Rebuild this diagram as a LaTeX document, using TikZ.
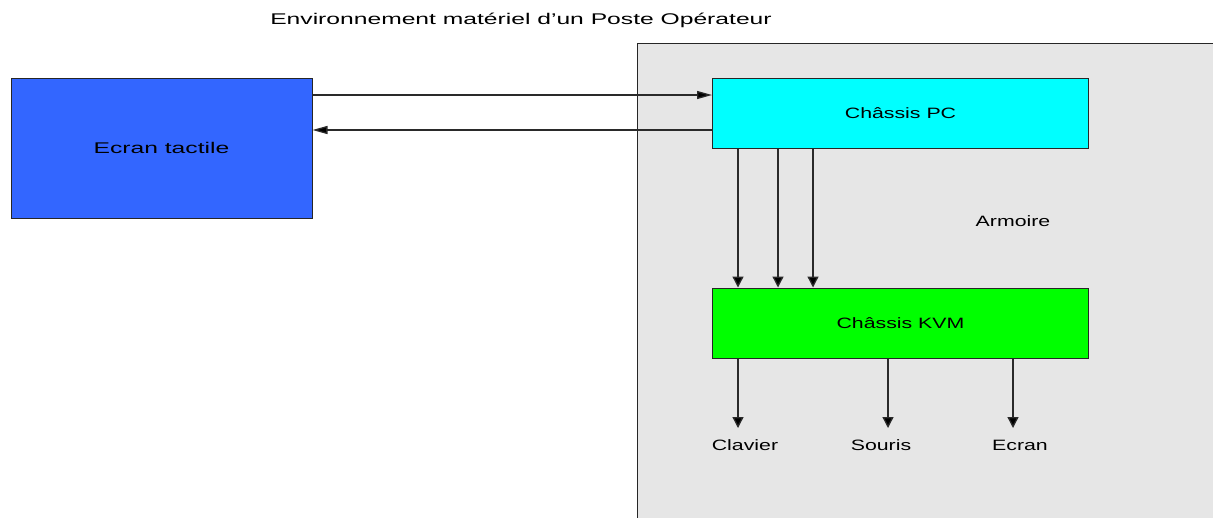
\documentclass[tikz,border=0pt]{standalone}
\usepackage{fontspec}
\setmainfont{Liberation Sans}
\newfontfamily\bigf{Liberation Sans}[FakeStretch=1.59]
\newfontfamily\smallf{Liberation Sans}[FakeStretch=1.42]
\usetikzlibrary{arrows.meta,calc}
\definecolor{armoirefill}{HTML}{E6E6E6}
\definecolor{ecranblue}{HTML}{3366FF}
\definecolor{pccyan}{HTML}{00FFFF}
\definecolor{kvmgreen}{HTML}{00FF00}
\definecolor{linegray}{HTML}{2A2A2A}
\tikzset{
  box/.style={draw=black!85, line width=1pt, inner sep=0pt, minimum height=70pt, minimum width=376pt},
  bigtext/.style={font=\fontsize{15.5}{18}\bigf, text=black},
  smalltext/.style={font=\fontsize{15}{18}\smallf, text=black},
  harrow/.style={draw=linegray, line width=1.3pt, -{Triangle[length=15pt,width=8pt,fill=black]}},
  varrow/.style={draw=linegray, line width=1.3pt, -{Triangle[length=11pt,width=11pt,fill=black]}},
}
\begin{document}
\begin{tikzpicture}[x=1pt,y=-1pt]
\useasboundingbox (0,0) rectangle (1213,517);
\clip (0,0) rectangle (1213,517);
\fill[white] (0,0) rectangle (1213,517);
\draw[fill=armoirefill, draw=black!85, line width=1pt] (637.5,43.5) rectangle (1240,540);

\node[bigtext] (title) at (521,20) {Environnement matériel d’un Poste Opérateur};
\node[smalltext] (armoire) at (1013,221) {Armoire};

\node[box, fill=ecranblue, minimum width=301pt, minimum height=140pt, bigtext] (ecran) at (161.5,148) {Ecran tactile};
\node[box, fill=pccyan, smalltext] (pc) at (900.5,113) {Châssis PC};
\node[box, fill=kvmgreen, smalltext] (kvm) at (900.5,323) {Châssis KVM};

\draw[harrow] ($(ecran.north east)+(0,17.5)$) -- ($(pc.north west)+(0,17.5)$);
\draw[harrow] ($(pc.north west)+(0,52.5)$) -- ($(ecran.north east)+(0,52.5)$);

\foreach \dx in {26,66,101}
  \draw[varrow] ($(pc.south west)+(\dx,0)$) -- ($(kvm.north west)+(\dx,0)$);

\coordinate (cclav) at (738,428);
\coordinate (csour) at (888,428);
\coordinate (cecr) at (1013,428);
\node[smalltext] (clavier) at (745,445) {Clavier};
\node[smalltext] (souris) at (881,445) {Souris};
\node[smalltext] (ecr) at (1020,445) {Ecran};

\draw[varrow] (kvm.south west -| cclav) -- (cclav);
\draw[varrow] (kvm.south west -| csour) -- (csour);
\draw[varrow] (kvm.south west -| cecr) -- (cecr);
\end{tikzpicture}
\end{document}
